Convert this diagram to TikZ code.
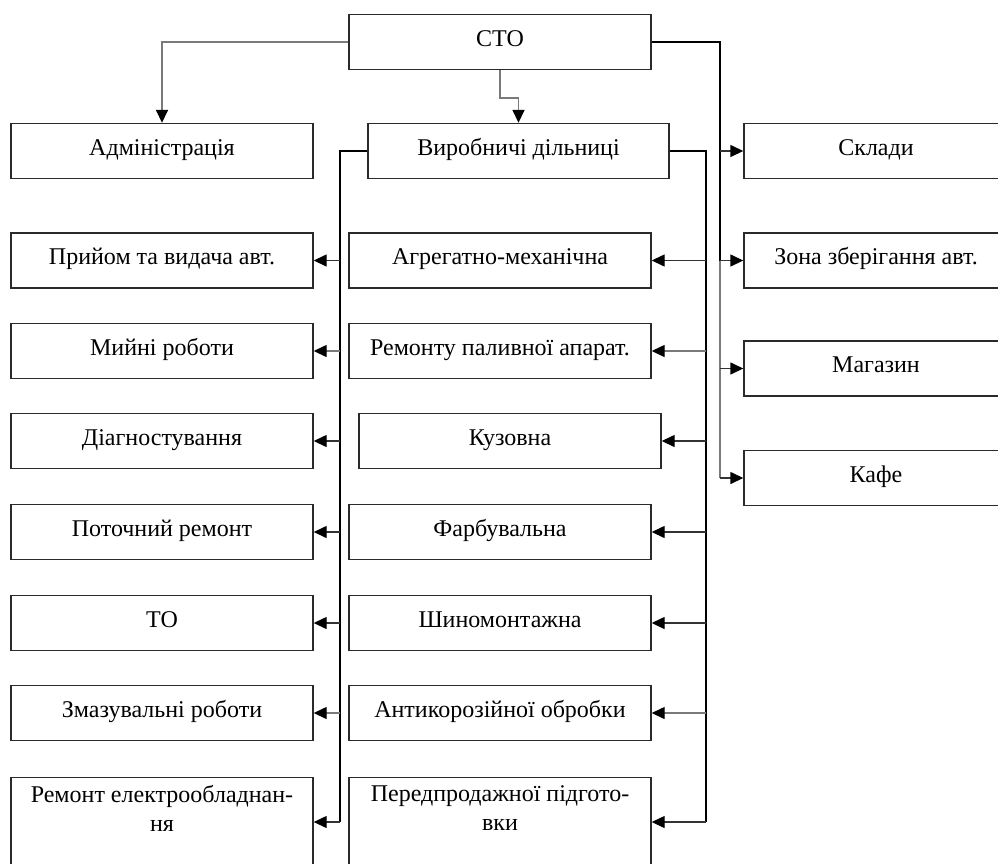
\documentclass[tikz,border=0pt]{standalone}
\usepackage{fontspec}
\setmainfont{Liberation Serif}
\usetikzlibrary{arrows.meta}
\definecolor{bord}{HTML}{2A2A2A}
\definecolor{thin}{HTML}{7A7A7A}
\definecolor{arrc}{HTML}{333333}
\tikzset{
  every node/.style={font=\fontsize{24}{29}\selectfont},
  box/.style={draw=bord, line width=1.4pt, rectangle, inner sep=0pt,
    minimum width=302pt, minimum height=55pt, text height=17pt, text depth=9pt},
  rbox/.style={box, minimum width=264pt},
  tip/.style={-{Triangle[length=13pt,width=12pt,color=black]}},
  arr/.style={tip, draw=arrc, line width=1.4pt},
  garr/.style={tip, draw=thin, line width=1.4pt},
  bus/.style={draw=black, line width=2.6pt},
  gline/.style={draw=thin, line width=1.6pt},
}
\begin{document}
\begin{tikzpicture}[x=1pt,y=-1pt]
\useasboundingbox (0,0) rectangle (998,863);
\clip (0,0) rectangle (998,863);
% top
\node[box] (cto) at (500,42) {СТО};
\node[box] (adm) at (162,151) {Адміністрація};
\node[box, minimum width=301pt] (vyr) at (518.5,151) {Виробничі дільниці};
% right column
\node[rbox] (r1) at (876,151) {Склади};
\node[rbox] (r2) at (876,260.5) {Зона зберігання авт.};
\node[rbox] (r3) at (876,368.5) {Магазин};
\node[rbox] (r4) at (876,478) {Кафе};
% left column
\node[box] (l1) at (162,260.5) {Прийом та видача авт.};
\node[box] (l2) at (162,351) {Мийні роботи};
\node[box] (l3) at (162,441) {Діагностування};
\node[box] (l4) at (162,532) {Поточний ремонт};
\node[box] (l5) at (162,623) {ТО};
\node[box] (l6) at (162,713) {Змазувальні роботи};
\node[box, anchor=north, minimum height=110pt] (l7) at (162,777) {};
\node[anchor=north, align=center, inner sep=0pt] (l7t) at (162,785) {Ремонт електрообладнан-\\ня};
% middle column
\node[box] (m1) at (500,260.5) {Агрегатно-механічна};
\node[box] (m2) at (500,351) {Ремонту паливної апарат.};
\node[box] (m3) at (510,441) {Кузовна};
\node[box] (m4) at (500,532) {Фарбувальна};
\node[box] (m5) at (500,623) {Шиномонтажна};
\node[box] (m6) at (500,713) {Антикорозійної обробки};
\node[box, anchor=north, minimum height=110pt] (m7) at (500,777) {};
\node[anchor=north, align=center, inner sep=0pt] (m7t) at (500,785) {Передпродажної підгото-\\вки};
% bus coordinates
\coordinate (lb) at (340,822);
\coordinate (rb) at (706,822);
\coordinate (ob) at (720,260.5);
\coordinate (obe) at (720,478);
% connectors from CTO
\draw[gline, tip] (cto.west) -| (adm.north);
\draw[gline, tip] (cto.south) -- ++(0,28) -| (vyr.north);
\draw[bus] (cto.east) -| (ob);
\draw[gline] (ob) -- (obe);
\draw[arr] (720,151) -- (r1.west);
\draw[arr] (ob) -- (r2.west);
\draw[arr] (720,368.5) -- (r3.west);
\draw[arr] (obe) -- (r4.west);
% buses from Vyrobnychi
\draw[bus] (vyr.west) -| (lb);
\draw[bus] (vyr.east) -| (rb);
% left arrows
\foreach \n in {l1,l3,l4,l5}{
  \draw[arr] (340,0 |- \n.west) -- (\n.east);
}
\foreach \n in {l2,l6}{
  \draw[garr] (340,0 |- \n.west) -- (\n.east);
}
\draw[arr] (lb) -- (lb -| l7.east);
% right arrows
\foreach \n in {m1,m3,m4,m5}{
  \draw[arr] (706,0 |- \n.east) -- (\n.east);
}
\foreach \n in {m2,m6}{
  \draw[garr] (706,0 |- \n.east) -- (\n.east);
}
\draw[arr] (rb) -- (rb -| m7.east);
\end{tikzpicture}
\end{document}
